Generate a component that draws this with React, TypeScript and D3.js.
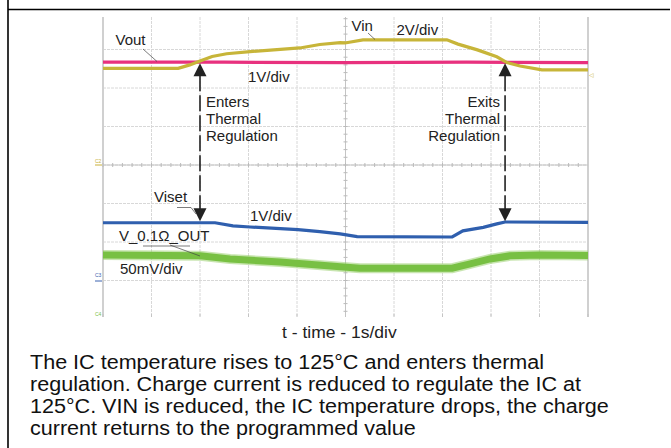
import React from 'react';
import * as d3 from 'd3';

const W = 671;
const H = 448;

// Oscilloscope screen: time in divisions (1 s/div), level in divisions
const timeDivs = d3.range(0, 11);
const levelDivs = d3.range(-3, 4);

// Vout (1V/div)
const voutT = [0, 2.5, 5, 7.5, 10];
const voutY = [2.67, 2.67, 2.66, 2.67, 2.66];

// Vin (2V/div)
const vinT = [0, 1.55, 1.79, 2.0, 2.25, 2.55, 3.09, 4.06, 4.47, 4.89, 4.99, 5.36, 7.09, 7.32, 7.72, 8.12, 8.33, 8.6, 9.05, 10];
const vinY = [2.51, 2.51, 2.6, 2.7, 2.82, 2.89, 2.95, 3.04, 3.13, 3.18, 3.17, 3.25, 3.25, 3.14, 2.99, 2.81, 2.66, 2.57, 2.47, 2.47];

// Viset (1V/div)
const visetT = [0, 2.31, 2.68, 3.03, 4.02, 4.47, 4.89, 5.24, 7.2, 7.42, 7.84, 8.12, 8.29, 10];
const visetY = [-1.5, -1.5, -1.58, -1.61, -1.68, -1.73, -1.79, -1.86, -1.87, -1.71, -1.62, -1.53, -1.48, -1.49];

// V_0.1Ω_OUT (50mV/div)
const vsenseT = [0, 2.0, 2.62, 3.65, 4.89, 5.3, 7.2, 7.57, 7.98, 8.39, 9.0, 10];
const vsenseY = [-2.34, -2.36, -2.44, -2.52, -2.64, -2.68, -2.68, -2.57, -2.44, -2.36, -2.34, -2.35];

const captionLines = [
  'The IC temperature rises to 125°C and enters thermal',
  'regulation. Charge current is reduced to regulate the IC at',
  '125°C. VIN is reduced, the IC temperature drops, the charge',
  'current returns to the programmed value',
];

const FONT = '"Liberation Sans", Arial, Helvetica, sans-serif';

export default function App() {
  const x = d3.scaleLinear().domain([0, 10]).range([103, 588]);
  const y = d3.scaleLinear().domain([-4, 4]).range([319, 11]);
  const top = 17;
  const bottom = 317;

  const line = (ts: number[], ys: number[]) =>
    d3.line<number>().x((_, i) => x(ts[i])).y((_, i) => y(ys[i]))(ts) || '';

  const minorX = d3.range(0, 50).map((i) => x(i / 5));
  const minorY = d3.range(-19, 20).map((i) => y(i / 5));

  const arrowL = 2.0;
  const arrowR = 8.29;
  const upTip = y(2.67) + 1;
  const downTip = y(-1.49) - 1;

  const arrow = (t: number) => {
    const cx = x(t);
    return (
      <g key={t}>
        <line x1={cx} x2={cx} y1={upTip + 12} y2={downTip - 12} stroke="#222" strokeWidth={1.6} strokeDasharray="16,4" />
        <path d={`M${cx},${upTip} L${cx - 6.5},${upTip + 13} L${cx + 6.5},${upTip + 13} Z`} fill="#222" />
        <path d={`M${cx},${downTip} L${cx - 6.5},${downTip - 13} L${cx + 6.5},${downTip - 13} Z`} fill="#222" />
      </g>
    );
  };

  return (
    <div style={{ position: 'absolute', left: 0, top: 0, width: W, height: H, background: '#fff' }}>
      <svg width={W} height={H} style={{ display: 'block', fontFamily: FONT }}>
        <rect width={W} height={H} fill="#fff" />
        {/* frame */}
        <line x1={8} x2={8} y1={0} y2={H} stroke="#000" strokeWidth={1.6} />
        <line x1={8} x2={670} y1={9.5} y2={9.5} stroke="#000" strokeWidth={1.6} />

        {/* grid */}
        {timeDivs.slice(1, -1).map((t) => (
          <line key={'vx' + t} x1={x(t)} x2={x(t)} y1={top} y2={bottom} stroke="#d8d8d8" strokeWidth={1} strokeDasharray="3,1" />
        ))}
        {levelDivs.map((l) => (
          <line key={'hy' + l} x1={x(0)} x2={x(10)} y1={y(l)} y2={y(l)} stroke="#d8d8d8" strokeWidth={1} strokeDasharray="3,1" />
        ))}
        <line x1={x(0)} x2={x(0)} y1={top} y2={bottom} stroke="#d0d0d0" strokeWidth={2} />
        <line x1={x(10)} x2={x(10)} y1={top} y2={bottom} stroke="#d0d0d0" strokeWidth={2} />
        <line x1={x(0)} x2={x(10)} y1={y(0)} y2={y(0)} stroke="#c4c4c4" strokeWidth={1} />
        <line x1={x(5)} x2={x(5)} y1={top} y2={bottom} stroke="#c4c4c4" strokeWidth={1} />
        {minorX.map((mx, i) => (
          <line key={'mx' + i} x1={mx} x2={mx} y1={y(0) - 2} y2={y(0) + 2} stroke="#bbb" strokeWidth={1} />
        ))}
        {minorY.filter((my) => my > top && my < bottom).map((my, i) => (
          <line key={'my' + i} x1={x(5) - 2} x2={x(5) + 2} y1={my} y2={my} stroke="#bbb" strokeWidth={1} />
        ))}
        {timeDivs.map((t) => (
          <line key={'bt' + t} x1={x(t)} x2={x(t)} y1={bottom - 3} y2={bottom} stroke="#c4c4c4" strokeWidth={1} />
        ))}

        {/* channel markers */}
        <text x={95} y={163} fontSize={5} fill="#c9b03a">C2</text>
        <line x1={95} x2={102} y1={y(0)} y2={y(0)} stroke="#c9b03a" strokeWidth={1} />
        <text x={95} y={277} fontSize={5} fill="#3b62b0">C3</text>
        <line x1={95} x2={102} y1={y(-3) + 0.5} y2={y(-3) + 0.5} stroke="#3b62b0" strokeWidth={1} />
        <text x={95} y={316} fontSize={5} fill="#7cbf48">C4</text>
        <text x={589} y={77} fontSize={6} fill="#c9b03a">◁</text>

        {/* traces */}
        <path d={line(vsenseT, vsenseY)} fill="none" stroke="#9ad070" strokeWidth={10} strokeOpacity={0.55} />
        <path d={line(vsenseT, vsenseY)} fill="none" stroke="#78c043" strokeWidth={7} />
        <path d={line(visetT, visetY)} fill="none" stroke="#2f5fae" strokeWidth={3.2} />
        <path d={line(voutT, voutY)} fill="none" stroke="#e8317e" strokeWidth={3.2} />
        <path d={line(vinT, vinY)} fill="none" stroke="#c7b539" strokeWidth={3.2} />

        {/* arrows */}
        {arrow(arrowL)}
        {arrow(arrowR)}

        {/* annotations */}
        <g fontSize={15} fill="#222">
          <text x={115.5} y={45}>Vout</text>
          <line x1={143} y1={49} x2={157} y2={61.5} stroke="#444" strokeWidth={0.7} />
          <text x={248} y={81.5}>1V/div</text>
          <text x={351.5} y={30.5}>Vin</text>
          <line x1={368} y1={33} x2={375} y2={39.5} stroke="#444" strokeWidth={0.7} />
          <text x={396.5} y={35}>2V/div</text>
          <text x={206} y={106.5}>Enters</text>
          <text x={206} y={123.5}>Thermal</text>
          <text x={206} y={140.5}>Regulation</text>
          <text x={500} y={106.5} textAnchor="end">Exits</text>
          <text x={500} y={123.5} textAnchor="end">Thermal</text>
          <text x={500} y={140.5} textAnchor="end">Regulation</text>
          <text x={154} y={201.5}>Viset</text>
          <polyline points="177,207.5 191,207.5 196,214" fill="none" stroke="#444" strokeWidth={0.7} />
          <text x={250} y={220.5}>1V/div</text>
          <text x={119} y={240.5}>V_0.1Ω_OUT</text>
          <line x1={143} y1={246} x2={190} y2={246} stroke="#444" strokeWidth={0.7} />
          <line x1={170} y1={245} x2={200} y2={256} stroke="#444" strokeWidth={0.7} />
          <text x={120} y={274}>50mV/div</text>
        </g>

        {/* axis title */}
        <g transform="translate(282,338) scale(1.06,1)">
          <text x={0} y={0} fontSize={16.5} fill="#222">t - time - 1s/div</text>
        </g>

        {/* caption */}
        <g transform="translate(30,0) scale(1.1,1)" fill="#111">
          {captionLines.map((s, i) => (
            <text key={i} x={0} y={369 + i * 22.1} fontSize={19.6}>{s}</text>
          ))}
        </g>
      </svg>
    </div>
  );
}
